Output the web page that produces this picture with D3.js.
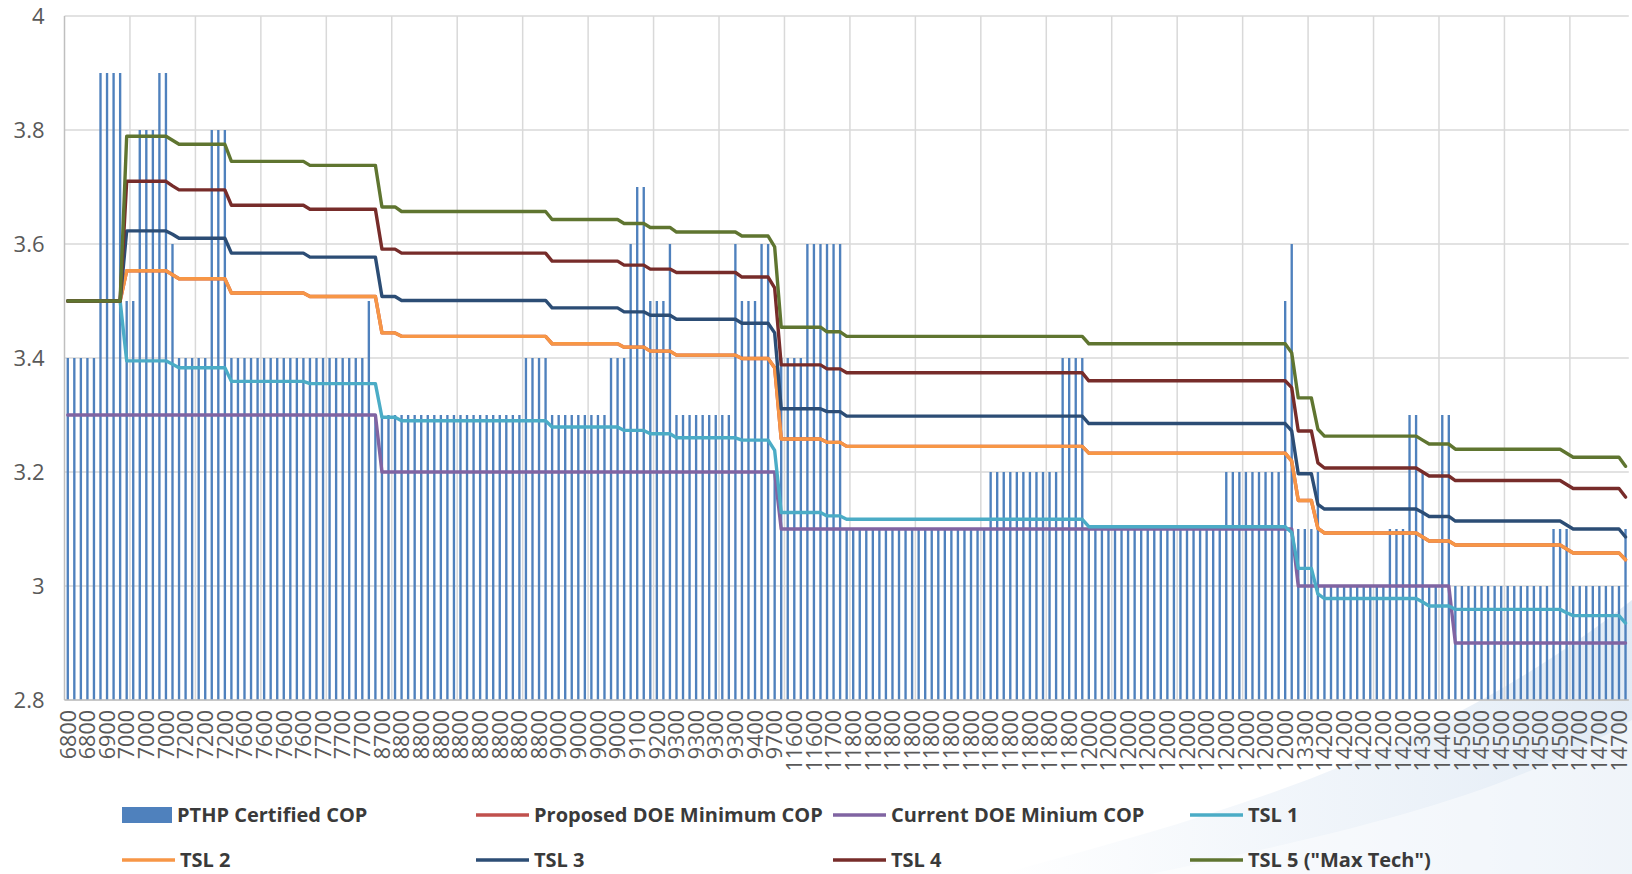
<!DOCTYPE html>
<html><head><meta charset="utf-8">
<script src="https://cdn.jsdelivr.net/npm/d3@7"></script>
<style>
body{margin:0;background:#fff;}
svg{display:block;}
text{font-family:"Open Sans",Lato,sans-serif;}
</style>
</head><body>
<svg id="c" width="1632" height="874"></svg>
<script>
// ---- DATA ----
// capacity (Btu/h) of each certified PTHP model, one per bar (category labels)
const capacities = [
  6800,6800,6800,6800,6800,6800,6900,6900,6900,
  7000,7000,7000,7000,7000,7000,7000,7100,
  7200,7200,7200,7200,7200,7200,7200,7200,
  7600,7600,7600,7600,7600,7600,7600,7600,7600,7600,7600,7600,
  7700,7700,7700,7700,7700,7700,7700,7700,7700,7700,7700,
  8700,8700,8700,
  8800,8800,8800,8800,8800,8800,8800,8800,8800,8800,
  8800,8800,8800,8800,8800,8800,8800,8800,8800,8800,
  8800,8800,8800,
  9000,9000,9000,9000,9000,9000,9000,9000,9000,9000,9000,
  9100,9100,9100,9100,
  9200,9200,9200,9200,
  9300,9300,9300,9300,9300,9300,9300,9300,9300,9300,
  9400,9400,9400,9400,9400,9700,
  11600,11600,11600,11600,11600,11600,11600,11700,11700,11700,
  11800,11800,11800,11800,11800,11800,11800,11800,11800,11800,
  11800,11800,11800,11800,11800,11800,11800,11800,11800,11800,
  11800,11800,11800,11800,11800,11800,11800,11800,11800,11800,
  11800,11800,11800,11800,11800,11800,11800,
  12000,12000,12000,12000,12000,12000,12000,12000,12000,12000,
  12000,12000,12000,12000,12000,12000,12000,12000,12000,12000,
  12000,12000,12000,12000,12000,12000,12000,12000,12000,12000,
  12000,
  12200,13300,13300,13300,14000,
  14200,14200,14200,14200,14200,14200,14200,14200,14200,14200,
  14200,14200,14200,14200,14200,
  14300,14400,14400,14400,14400,
  14500,14500,14500,14500,14500,14500,14500,14500,14500,14500,
  14500,14500,14500,14500,14500,14500,14500,
  14600,14700,14700,14700,14700,14700,14700,14700,14700,14900
];

// certified COP of each model (bars)
const certifiedCOP = [
  3.4,3.4,3.4,3.4,3.4, 3.9,3.9,3.9,3.9, 3.5,3.5, 3.8,3.8,3.8, 3.9,3.9, 3.6,
  3.4,3.4,3.4,3.4,3.4, 3.8,3.8,3.8,
  3.4,3.4,3.4,3.4,3.4,3.4,3.4,3.4,3.4,3.4,3.4,3.4,3.4,3.4,3.4,3.4,3.4,3.4,3.4,3.4,3.4,
  3.5,
  3.3,3.3,3.3,3.3,3.3,3.3,3.3,3.3,3.3,3.3,3.3,3.3,3.3,3.3,3.3,3.3,3.3,3.3,3.3,3.3,3.3,3.3,3.3,
  3.4,3.4,3.4,3.4,
  3.3,3.3,3.3,3.3,3.3,3.3,3.3,3.3,3.3,
  3.4,3.4,3.4,
  3.6, 3.7,3.7, 3.5,3.5,3.5, 3.6,
  3.3,3.3,3.3,3.3,3.3,3.3,3.3,3.3,3.3,
  3.6, 3.5,3.5,3.5, 3.6,3.6, 3.2,
  3.4,3.4,3.4,3.4, 3.6,3.6,3.6,3.6,3.6,3.6,
  3.1,3.1,3.1,3.1,3.1,3.1,3.1,3.1,3.1,3.1,3.1,3.1,3.1,3.1,3.1,3.1,3.1,3.1,3.1,3.1,3.1,3.1,
  3.2,3.2,3.2,3.2,3.2,3.2,3.2,3.2,3.2,3.2,3.2,
  3.4,3.4,3.4,3.4,
  3.1,3.1,3.1,3.1,3.1,3.1,3.1,3.1,3.1,3.1,3.1,3.1,3.1,3.1,3.1,3.1,3.1,3.1,3.1,3.1,3.1,
  3.2,3.2,3.2,3.2,3.2,3.2,3.2,3.2,3.2,
  3.5, 3.6, 3.1,3.1,3.1, 3.2,
  3.0,3.0,3.0,3.0,3.0,3.0,3.0,3.0,3.0,3.0,
  3.1,3.1,3.1, 3.3,3.3, 3.2, 3.0,3.0, 3.3,3.3,
  3.0,3.0,3.0,3.0,3.0,3.0,3.0,3.0,3.0,3.0,3.0,3.0,3.0,3.0,3.0,
  3.1,3.1,3.1, 3.0,3.0,3.0,3.0,3.0,3.0,3.0,3.0, 3.1
];

// level lines: value at each distinct capacity
const capLevels  = [6800,6900,7000,7100,7200,7600,7700,8700,8800,9000,9100,9200,9300,9400,9700,11600,11700,11800,12000,12200,13300,14000,14200,14300,14400,14500,14600,14700,14900];
const proposedDOE = [3.5,3.5,3.553,3.546,3.539,3.514,3.508,3.444,3.438,3.425,3.419,3.412,3.405,3.399,3.383,3.258,3.252,3.245,3.233,3.219,3.150,3.101,3.093,3.086,3.079,3.072,3.065,3.058,3.046];
const currentDOE  = [3.3,3.3,3.3,3.3,3.3,3.3,3.3,3.2,3.2,3.2,3.2,3.2,3.2,3.2,3.2,3.1,3.1,3.1,3.1,3.1,3.0,3.0,3.0,3.0,3.0,2.9,2.9,2.9,2.9];
const tsl1 = [3.5,3.5,3.395,3.389,3.383,3.359,3.355,3.296,3.290,3.279,3.273,3.267,3.260,3.256,3.238,3.129,3.123,3.117,3.104,3.094,3.031,2.986,2.978,2.972,2.965,2.959,2.953,2.948,2.935];
const tsl2 = [3.5,3.5,3.553,3.546,3.539,3.514,3.508,3.444,3.438,3.425,3.419,3.412,3.405,3.399,3.383,3.258,3.252,3.245,3.233,3.219,3.150,3.101,3.093,3.086,3.079,3.072,3.065,3.058,3.046];
const tsl3 = [3.5,3.5,3.623,3.617,3.610,3.584,3.577,3.508,3.501,3.488,3.481,3.475,3.468,3.461,3.444,3.311,3.306,3.298,3.285,3.272,3.197,3.143,3.135,3.129,3.122,3.114,3.107,3.100,3.086];
const tsl4 = [3.5,3.5,3.710,3.702,3.695,3.668,3.661,3.591,3.584,3.570,3.563,3.556,3.550,3.542,3.523,3.388,3.381,3.374,3.360,3.348,3.272,3.216,3.207,3.200,3.193,3.185,3.178,3.171,3.156];
const tsl5 = [3.5,3.5,3.789,3.782,3.775,3.745,3.738,3.665,3.657,3.643,3.636,3.629,3.621,3.614,3.595,3.454,3.446,3.438,3.425,3.409,3.330,3.275,3.263,3.256,3.249,3.240,3.233,3.226,3.210];

const yTicks = [2.8,3,3.2,3.4,3.6,3.8,4];
const labelEvery = 3;
const gridEvery = 10;

// ---- CHART ----
const svg = d3.select('#c');
const P = {left:64.5, right:1628.8, top:16, bottom:700};
const idx = d3.range(capacities.length);
const x = d3.scaleBand().domain(idx).range([P.left, P.right]).padding(0);
const y = d3.scaleLinear().domain([2.8,4]).range([P.bottom, P.top]);
const cx = i => x(i) + x.bandwidth()/2;

// faint background swoosh (bottom right)
const defs = svg.append('defs');
const g1 = defs.append('linearGradient').attr('id','sw').attr('x1','0').attr('x2','1').attr('y1','0').attr('y2','0');
g1.append('stop').attr('offset','0').attr('stop-color','#e6eef7').attr('stop-opacity',0);
g1.append('stop').attr('offset','0.5').attr('stop-color','#e6eef7').attr('stop-opacity',0.6);
g1.append('stop').attr('offset','1').attr('stop-color','#dfe9f4').attr('stop-opacity',0.9);
svg.append('path').attr('d','M1000,874 C1200,820 1430,760 1632,600 L1632,874 Z').attr('fill','url(#sw)');
svg.append('path').attr('d','M1150,874 C1330,835 1500,800 1632,720 L1632,874 Z').attr('fill','#ffffff').attr('opacity',0.45);

// gridlines
svg.append('g').selectAll('line').data(yTicks).join('line')
  .attr('x1',P.left).attr('x2',P.right).attr('y1',d=>y(d)).attr('y2',d=>y(d))
  .attr('stroke','#d9d9d9').attr('stroke-width',1.5);
svg.append('g').selectAll('line').data(idx.filter(i=>i>0 && i%gridEvery===0)).join('line')
  .attr('x1',i=>x(i)).attr('x2',i=>x(i)).attr('y1',P.top).attr('y2',P.bottom)
  .attr('stroke','#d9d9d9').attr('stroke-width',1.5);

// bars
const bw = x.bandwidth()*0.36;
svg.append('g').selectAll('rect').data(certifiedCOP).join('rect')
  .attr('x',(d,i)=>cx(i)-bw/2).attr('width',bw)
  .attr('y',d=>y(d)).attr('height',d=>y(2.8)-y(d))
  .attr('fill','#4F81BD');

// axis lines
svg.append('line').attr('x1',P.left).attr('x2',P.left).attr('y1',P.top).attr('y2',P.bottom).attr('stroke','#bfbfbf').attr('stroke-width',1.5);
svg.append('line').attr('x1',P.left).attr('x2',P.right).attr('y1',P.bottom).attr('y2',P.bottom).attr('stroke','#bfbfbf').attr('stroke-width',1.5);

// lines
const byCap = arr => capacities.map(c => arr[capLevels.indexOf(c)]);
const series = [
  {name:'Proposed DOE Minimum COP', vals:proposedDOE, color:'#C0504D'},
  {name:'Current DOE Minium COP', vals:currentDOE, color:'#8064A2'},
  {name:'TSL 1', vals:tsl1, color:'#4BACC6'},
  {name:'TSL 2', vals:tsl2, color:'#F79646'},
  {name:'TSL 3', vals:tsl3, color:'#2C4D75'},
  {name:'TSL 4', vals:tsl4, color:'#772C2A'},
  {name:'TSL 5 ("Max Tech")', vals:tsl5, color:'#5F7530'}
];
const line = d3.line().x((d,i)=>cx(i)).y(d=>y(d));
svg.append('g').selectAll('path').data(series).join('path')
  .attr('d',s=>line(byCap(s.vals)))
  .attr('fill','none').attr('stroke',s=>s.color).attr('stroke-width',3.4)
  .attr('stroke-linejoin','round').attr('stroke-linecap','round');

// y axis labels
const yAxis = svg.append('g').attr('transform',`translate(${P.left},0)`)
  .call(d3.axisLeft(y).tickValues(yTicks).tickSize(0).tickPadding(20).tickFormat(d=>String(d)));
yAxis.select('.domain').remove();
yAxis.selectAll('text').attr('fill','#595959').style('font-size','22px').style('font-family','"Open Sans", sans-serif');

// x axis labels
const xAxis = svg.append('g').attr('transform',`translate(0,${P.bottom})`)
  .call(d3.axisBottom(x).tickValues(idx.filter(i=>i%labelEvery===0)).tickSize(0).tickFormat(i=>String(capacities[i])));
xAxis.select('.domain').remove();
xAxis.selectAll('text')
  .attr('transform','rotate(-90)').attr('x',-10).attr('y',0).attr('dy','0.36em')
  .style('text-anchor','end').attr('fill','#595959').style('font-size','21.5px').style('font-family','"Open Sans", sans-serif');

// legend
const legendItems = [
  {name:'PTHP Certified COP', type:'bar', color:'#4F81BD', x:122, y:815},
  {name:series[0].name, type:'line', color:series[0].color, x:476, y:815},
  {name:series[1].name, type:'line', color:series[1].color, x:833, y:815},
  {name:series[2].name, type:'line', color:series[2].color, x:1190, y:815},
  {name:series[3].name, type:'line', color:series[3].color, x:122, y:860},
  {name:series[4].name, type:'line', color:series[4].color, x:476, y:860},
  {name:series[5].name, type:'line', color:series[5].color, x:833, y:860},
  {name:series[6].name, type:'line', color:series[6].color, x:1190, y:860}
];
const lg = svg.append('g').selectAll('g').data(legendItems).join('g')
  .attr('transform',d=>`translate(${d.x},${d.y})`);
lg.filter(d=>d.type==='bar').append('rect').attr('x',0).attr('y',-8).attr('width',50).attr('height',16).attr('fill',d=>d.color);
lg.filter(d=>d.type==='line').append('line').attr('x1',0).attr('x2',53).attr('y1',0).attr('y2',0)
  .attr('stroke',d=>d.color).attr('stroke-width',3.4);
lg.append('text').attr('x',d=>d.type==='bar'?55:58).attr('y',0).attr('dy','0.35em')
  .text(d=>d.name).attr('fill','#3a3a3a').style('font-weight','bold').style('font-size','20px').style('font-family','"Open Sans", sans-serif');
</script>
</body></html>
